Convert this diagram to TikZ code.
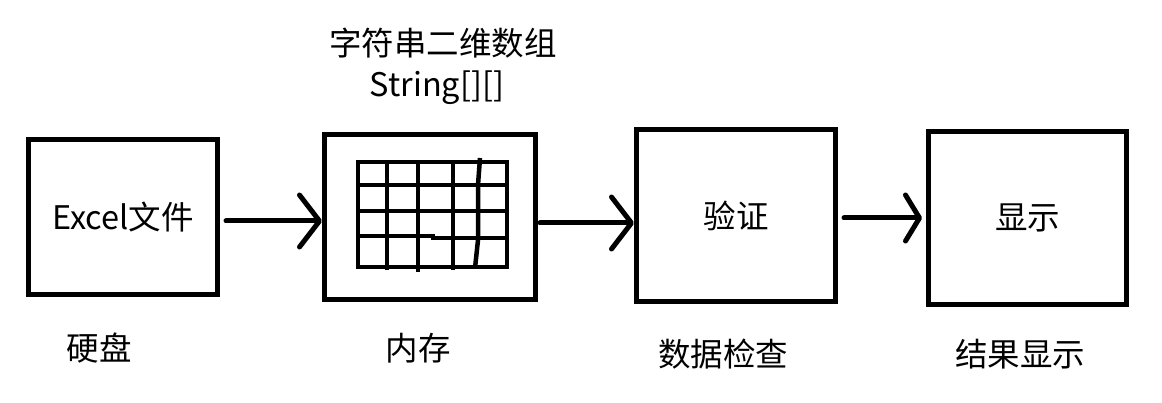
\documentclass[tikz,border=0pt]{standalone}
\usepackage{fontspec}
\setmainfont{Noto Sans CJK SC}
\usetikzlibrary{arrows.meta}
\tikzset{
  stagebox/.style={draw, line width=5pt, inner sep=0pt},
  flow/.style={line width=5pt, line cap=round, -{Straight Barb[length=20pt, width=52pt, line width=5pt, round]}},
  cell/.style={line width=4.5pt},
  caption/.style={font=\fontsize{32.5}{38}\selectfont},
}
\begin{document}
\begin{tikzpicture}[x=1pt, y=-1pt]
            \useasboundingbox (0,0) rectangle (1162,403);

            \node[stagebox, minimum width=189pt, minimum height=155pt, caption] (File) at (123,217) {Excel文件};
            \node[stagebox, minimum width=211pt, minimum height=165pt] (Mem) at (430,217) {};
            \node[stagebox, minimum width=199pt, minimum height=172pt, caption] (Check) at (736,215.5) {验证};
            \node[stagebox, minimum width=198pt, minimum height=173pt, caption] (Show) at (1027.5,218) {显示};

            \node[caption] (FileLbl) at (99,348) {硬盘};
            \node[caption] (MemLbl) at (418,348) {内存};
            \node[caption] (CheckLbl) at (723,354) {数据检查};
            \node[caption] (ShowLbl) at (1020,354) {结果显示};
            \node[caption] (Type) at (443,43) {字符串二维数组};
            \node[caption] (TypeEn) at (437,88) {String[][]};

            % grid of the array
            \foreach \y in {162,185,211,267}
                \draw[cell] (356,\y) -- (509,\y);
            \draw[cell] (356,236) -- (433,236) -- (433,238) -- (509,238);
            \foreach \x/\b in {358/267,387/270,418/272,453/270,507/267}
                \draw[cell] (\x,160) -- (\x,\b);
            \draw[cell] (480,158) -- (478,185) -- (478,240) -- (475,268);

            \draw[flow] ([xshift=6pt, yshift=-4pt]File.east) -- ([yshift=-4pt]Mem.west);
            \draw[flow] ([xshift=2pt, yshift=-6pt]Mem.east) -- ([yshift=-7.5pt]Check.west);
            \draw[flow, -{Straight Barb[length=14pt, width=46pt, line width=5pt, round]}] ([xshift=6pt, yshift=-2.5pt]Check.east) -- ([xshift=-4pt]Show.west);
        \end{tikzpicture}
\end{document}
